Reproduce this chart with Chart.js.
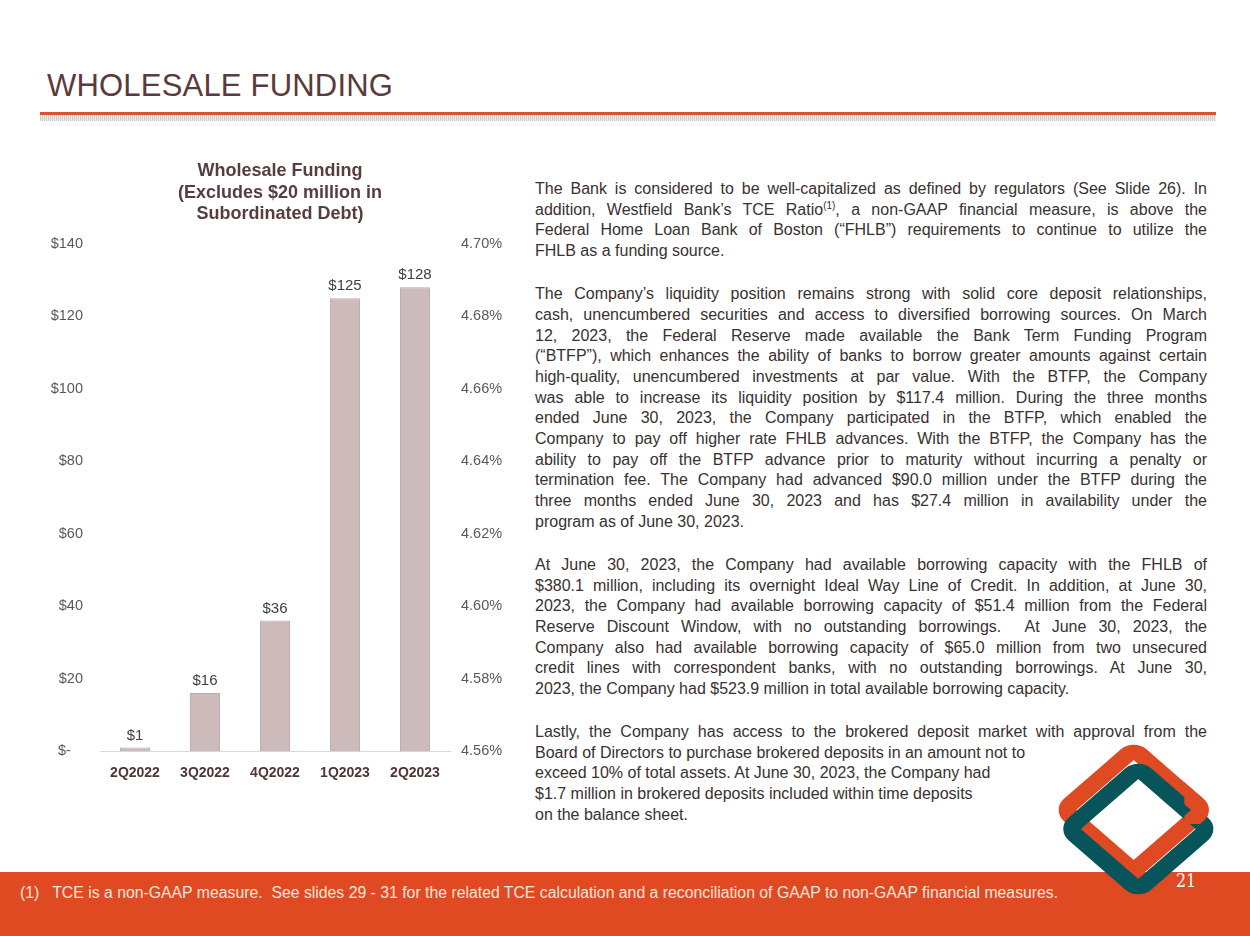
<!DOCTYPE html>
<html>
<head>
<meta charset="utf-8">
<script src="https://cdn.jsdelivr.net/npm/chart.js@4.4.1/dist/chart.umd.min.js"></script>
<style>
    html, body {
        margin: 0;
        padding: 0;
        width: 1250px;
        height: 936px;
        overflow: hidden;
        background: #ffffff;
        font-family: "Liberation Sans", Arial, sans-serif;
    }

    .slide {
        position: relative;
        width: 1250px;
        height: 936px;
    }

    .slide-title {
        position: absolute;
        left: 47px;
        top: 68px;
        font-size: 31px;
        color: #5a3b3b;
        letter-spacing: 0.2px;
    }

    .rule {
        position: absolute;
        left: 40px;
        top: 112px;
        width: 1176px;
        height: 3px;
        background: #d9532c;
    }

    .rule-shadow {
        position: absolute;
        left: 40px;
        top: 115px;
        width: 1176px;
        height: 6px;
        background: repeating-linear-gradient(90deg, #c8c8c8 0 1px, #eeeeee 1px 2px);
    }

    .chart-box {
        position: absolute;
        left: 40px;
        top: 150px;
        width: 480px;
        height: 640px;
    }

    .body-text {
        position: absolute;
        left: 535px;
        top: 179px;
        width: 672px;
        font-size: 16px;
        line-height: 20.7px;
        color: #3a3030;
    }

    .body-text .para {
        margin: 0 0 22.3px 0;
    }

    /* each line is kept as in the slide and spread to the full width */
    .body-text .j {
        text-align: justify;
        text-align-last: justify;
    }

    .body-text .l {
        text-align: left;
    }

    .body-text sup {
        font-size: 10px;
        line-height: 0;
        vertical-align: 6px;
    }

    .footer {
        position: absolute;
        left: 0;
        top: 872px;
        width: 1250px;
        height: 64px;
        background: #e04a22;
    }

    .footnote {
        position: absolute;
        left: 20px;
        top: 884px;
        font-size: 15.8px;
        color: #fbe6de;
    }

    .page-num {
        position: absolute;
        left: 1176px;
        top: 870px;
        font-family: "DejaVu Serif", serif;
        font-size: 18px;
        color: #ffffff;
        transform: scaleX(0.88);
        transform-origin: left;
    }

    .logo {
        position: absolute;
        left: 1040px;
        top: 730px;
    }
</style>
</head>
<body>
<div class="slide">

    <div class="slide-title">WHOLESALE FUNDING</div>
    <div class="rule"></div>
    <div class="rule-shadow"></div>

    <div class="chart-box">
        <canvas id="fundingChart"></canvas>
    </div>

    <div class="body-text">
        <div class="para">
            <div class="j">The Bank is considered to be well-capitalized as defined by regulators (See Slide 26). In</div>
            <div class="j">addition, Westfield Bank’s TCE Ratio<sup>(1)</sup>, a non-GAAP financial measure, is above the</div>
            <div class="j">Federal Home Loan Bank of Boston (“FHLB”) requirements to continue to utilize the</div>
            <div class="l">FHLB as a funding source.</div>
        </div>
        <div class="para">
            <div class="j">The Company’s liquidity position remains strong with solid core deposit relationships,</div>
            <div class="j">cash, unencumbered securities and access to diversified borrowing sources. On March</div>
            <div class="j">12, 2023, the Federal Reserve made available the Bank Term Funding Program</div>
            <div class="j">(“BTFP”), which enhances the ability of banks to borrow greater amounts against certain</div>
            <div class="j">high-quality, unencumbered investments at par value. With the BTFP, the Company</div>
            <div class="j">was able to increase its liquidity position by $117.4 million. During the three months</div>
            <div class="j">ended June 30, 2023, the Company participated in the BTFP, which enabled the</div>
            <div class="j">Company to pay off higher rate FHLB advances. With the BTFP, the Company has the</div>
            <div class="j">ability to pay off the BTFP advance prior to maturity without incurring a penalty or</div>
            <div class="j">termination fee. The Company had advanced $90.0 million under the BTFP during the</div>
            <div class="j">three months ended June 30, 2023 and has $27.4 million in availability under the</div>
            <div class="l">program as of June 30, 2023.</div>
        </div>
        <div class="para">
            <div class="j">At June 30, 2023, the Company had available borrowing capacity with the FHLB of</div>
            <div class="j">$380.1 million, including its overnight Ideal Way Line of Credit. In addition, at June 30,</div>
            <div class="j">2023, the Company had available borrowing capacity of $51.4 million from the Federal</div>
            <div class="j">Reserve Discount Window, with no outstanding borrowings.&nbsp; At June 30, 2023, the</div>
            <div class="j">Company also had available borrowing capacity of $65.0 million from two unsecured</div>
            <div class="j">credit lines with correspondent banks, with no outstanding borrowings. At June 30,</div>
            <div class="l">2023, the Company had $523.9 million in total available borrowing capacity.</div>
        </div>
        <div class="para">
            <div class="j">Lastly, the Company has access to the brokered deposit market with approval from the</div>
            <div class="l">Board of Directors to purchase brokered deposits in an amount not to</div>
            <div class="l">exceed 10% of total assets. At June 30, 2023, the Company had</div>
            <div class="l">$1.7 million in brokered deposits included within time deposits</div>
            <div class="l">on the balance sheet.</div>
        </div>
    </div>

    <div class="footer"></div>
    <div class="footnote">(1)&nbsp;&nbsp; TCE is a non-GAAP measure.&nbsp; See slides 29 - 31 for the related TCE calculation and a reconciliation of GAAP to non-GAAP financial measures.</div>

    <svg class="logo" width="200" height="180" viewBox="0 0 200 180">
        <defs>
            <clipPath id="rightCorner">
                <rect x="138" y="48" width="62" height="46"/>
            </clipPath>
        </defs>
        <g transform="translate(96,0) scale(1.15,1) translate(-96,0)">
            <!-- orange ring -->
            <g transform="translate(94,80) rotate(45)">
                <rect x="-43" y="-43" width="86" height="86" rx="8" fill="none" stroke="#e04a22" stroke-width="15.5"/>
            </g>
            <!-- teal ring -->
            <g transform="translate(98,99) rotate(45)">
                <rect x="-43" y="-43" width="86" height="86" rx="8" fill="none" stroke="#07545a" stroke-width="15.5"/>
            </g>
            <!-- orange passes over teal at the right corner -->
            <g clip-path="url(#rightCorner)">
                <g transform="translate(94,80) rotate(45)">
                    <rect x="-43" y="-43" width="86" height="86" rx="8" fill="none" stroke="#e04a22" stroke-width="15.5"/>
                </g>
            </g>
        </g>
    </svg>

    <div class="page-num">21</div>
</div>

<script>
// ---- data ----
const categories = ['2Q2022', '3Q2022', '4Q2022', '1Q2023', '2Q2023'];
const fundingValues = [1, 16, 36, 125, 128];
const leftTickValues = [0, 20, 40, 60, 80, 100, 120, 140];
const rightTickValues = [4.56, 4.58, 4.60, 4.62, 4.64, 4.66, 4.68, 4.70];
const chartTitleLines = ['Wholesale Funding', '(Excludes $20 million in', 'Subordinated Debt)'];

function dollarLabel(v) {
    return v === 0 ? '$-   ' : '$' + v;
}

// draws the $ value above every bar
const barValueLabels = {
    id: 'barValueLabels',
    afterDatasetsDraw(chart) {
        const ctx = chart.ctx;
        const meta = chart.getDatasetMeta(0);
        ctx.save();
        ctx.font = '15px "Liberation Sans", Arial, sans-serif';
        ctx.fillStyle = '#404040';
        ctx.textAlign = 'center';
        ctx.textBaseline = 'middle';
        meta.data.forEach((bar, i) => {
            ctx.fillText(dollarLabel(fundingValues[i]).trim(), bar.x, bar.y - 12);
        });
        ctx.restore();
    }
};

const context = document.getElementById('fundingChart').getContext('2d');

new Chart(context, {
    type: 'bar',
    data: {
        labels: categories,
        datasets: [{
            label: 'Wholesale Funding',
            data: fundingValues,
            backgroundColor: '#cdbbbb',
            borderColor: '#bcaaaa',
            borderWidth: 1,
            barPercentage: 0.43,
            categoryPercentage: 1,
            yAxisID: 'y'
        }]
    },
    options: {
        responsive: true,
        maintainAspectRatio: false,
        animation: false,
        layout: {
            padding: 0
        },
        plugins: {
            legend: { display: false },
            tooltip: { enabled: false },
            title: {
                display: true,
                text: chartTitleLines,
                color: '#573d3d',
                font: {
                    family: '"Liberation Sans", Arial, sans-serif',
                    size: 18,
                    weight: 'bold',
                    lineHeight: 1.2
                },
                padding: { top: 10.5, bottom: 18.5 }
            }
        },
        scales: {
            x: {
                grid: { display: false, drawTicks: false },
                border: { color: '#d9d9d9', width: 1 },
                ticks: {
                    color: '#4f3636',
                    padding: 14,
                    font: {
                        family: '"Liberation Sans", Arial, sans-serif',
                        size: 14,
                        weight: 'bold'
                    }
                },
                afterFit(scale) { scale.height = 39; }
            },
            y: {
                position: 'left',
                min: 0,
                max: 140,
                grid: { display: false, drawTicks: false },
                border: { display: false },
                afterBuildTicks(scale) {
                    scale.ticks = leftTickValues.map(v => ({ value: v }));
                },
                ticks: {
                    color: '#595959',
                    padding: 17,
                    font: {
                        family: '"Liberation Sans", Arial, sans-serif',
                        size: 14.5
                    },
                    callback: v => dollarLabel(v)
                },
                afterFit(scale) { scale.width = 60; }
            },
            y1: {
                position: 'right',
                min: 4.56,
                max: 4.70,
                grid: { display: false, drawTicks: false },
                border: { display: false },
                afterBuildTicks(scale) {
                    scale.ticks = rightTickValues.map(v => ({ value: v }));
                },
                ticks: {
                    color: '#595959',
                    padding: 11,
                    font: {
                        family: '"Liberation Sans", Arial, sans-serif',
                        size: 14.5
                    },
                    callback: v => v.toFixed(2) + '%'
                },
                afterFit(scale) { scale.width = 70; }
            }
        }
    },
    plugins: [barValueLabels]
});
</script>
</body>
</html>
